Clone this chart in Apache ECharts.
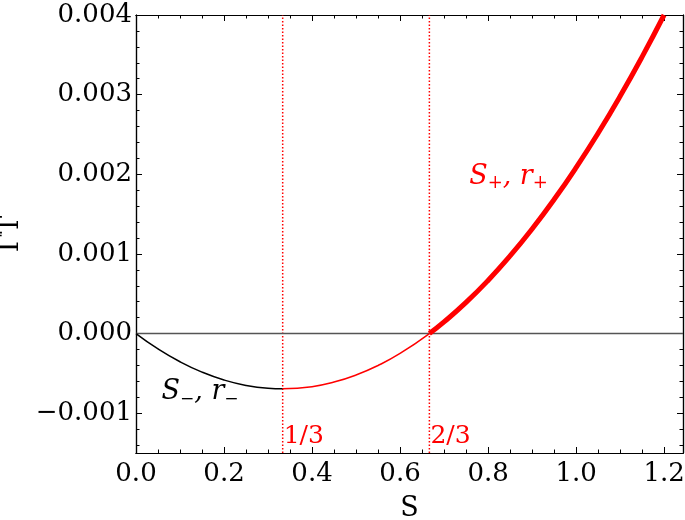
<!DOCTYPE html>
<html>
<head>
<meta charset="utf-8">
<script src="https://cdn.jsdelivr.net/npm/echarts@6/dist/echarts.min.js"></script>
<style>
html,body{margin:0;padding:0;background:#fff;}
#c{width:685px;height:520px;}
</style>
</head>
<body>
<div id="c"></div>
<script>
// Branch S-, r- (black), from S=0 to 1/3
const lowerBranch = [[0,0],[0.05,-0.0001927],[0.1,-0.0003542],[0.15,-0.0004844],[0.2,-0.0005833],[0.25,-0.000651],[0.3,-0.0006875],[0.3333,-0.0006944]];
// Branch thin red, from 1/3 to 2/3
const middleBranch = [[0.3333,-0.0006944],[0.4,-0.0006667],[0.45,-0.0006094],[0.5,-0.0005208],[0.55,-0.000401],[0.6,-0.00025],[0.6667,0]];
// Branch S+, r+ (thick red), from 2/3 to 1.2
const upperBranch = [[0.6667,0],[0.7,0.0001458],[0.75,0.0003906],[0.8,0.0006667],[0.85,0.000974],[0.9,0.0013125],[0.95,0.0016823],[1.0,0.0020833],[1.05,0.0025156],[1.1,0.0029792],[1.15,0.003474],[1.2,0.004]];
const markerX = [1/3, 2/3];
const markerLabels = ['1/3', '2/3'];
const xMajor = [0,0.2,0.4,0.6,0.8,1.0,1.2];
const xMinor = [0.05,0.1,0.15,0.25,0.3,0.35,0.45,0.5,0.55,0.65,0.7,0.75,0.85,0.9,0.95,1.05,1.1,1.15];
const yMajor = [-0.001,0,0.001,0.002,0.003,0.004];
const yMinor = [-0.0014,-0.0012,-0.0008,-0.0006,-0.0004,-0.0002,0.0002,0.0004,0.0006,0.0008,0.0012,0.0014,0.0016,0.0018,0.0022,0.0024,0.0026,0.0028,0.0032,0.0034,0.0036,0.0038];

const FONT = 'DejaVu Serif';
const xMin = 0, xMax = 1.243, yMin = -0.0015, yMax = 0.004;

function xAx(pos, ticks, len, labels, extra) {
  return Object.assign({
    type: 'value', position: pos, min: xMin, max: xMax,
    axisLine: {show: true, onZero: false, lineStyle: {color: '#000', width: 1.2}},
    axisTick: {show: true, inside: true, length: len, customValues: ticks, lineStyle: {color: '#000', width: 1}},
    axisLabel: labels ? {show: true, customValues: xMajor, formatter: v => v.toFixed(1), fontFamily: FONT, fontSize: 26, color: '#000', margin: 8} : {show: false},
    splitLine: {show: false}
  }, extra || {});
}
function yAx(pos, ticks, len, labels, extra) {
  return Object.assign({
    type: 'value', position: pos, min: yMin, max: yMax,
    axisLine: {show: true, onZero: false, lineStyle: {color: '#000', width: 1.2}},
    axisTick: {show: true, inside: true, length: len, customValues: ticks, lineStyle: {color: '#000', width: 1}},
    axisLabel: labels ? {show: true, customValues: yMajor, formatter: v => (v < 0 ? '\u2212' : '') + Math.abs(v).toFixed(3), fontFamily: FONT, fontSize: 26, color: '#000', margin: 4} : {show: false},
    splitLine: {show: false}
  }, extra || {});
}

const vLine = v => [[v, yMin], [v, yMax]];

const chart = echarts.init(document.getElementById('c'), null, {renderer: 'canvas'});
chart.setOption({
  animation: false,
  backgroundColor: '#fff',
  grid: {left: 136, right: 2, top: 15, bottom: 67, containLabel: false, outerBoundsMode: 'none'},
  xAxis: [
    xAx('bottom', xMajor, 6, true, {name: 'S', nameLocation: 'middle', nameGap: 42, nameMoveOverlap: false, nameTextStyle: {fontFamily: FONT, fontSize: 27, color: '#000'}}),
    xAx('bottom', xMinor, 3.5, false),
    xAx('top', xMajor, 6, false),
    xAx('top', xMinor, 3.5, false)
  ],
  yAxis: [
    yAx('left', yMajor, 6, true, {name: '\u0393T', nameLocation: 'middle', nameGap: 112, nameMoveOverlap: false, nameTextStyle: {fontFamily: FONT, fontSize: 27, color: '#000'}}),
    yAx('left', yMinor, 3.5, false),
    yAx('right', yMajor, 6, false),
    yAx('right', yMinor, 3.5, false)
  ],
  series: [
    {
      type: 'line', data: vLine(markerX[0]), showSymbol: false, symbol: 'none', silent: true,
      lineStyle: {color: '#ff0000', width: 1.5, type: [1.5, 2]}, z: 3
    },
    {
      type: 'line', data: vLine(markerX[1]), showSymbol: false, symbol: 'none', silent: true,
      lineStyle: {color: '#ff0000', width: 1.5, type: [1.5, 2]}, z: 3
    },
    {
      type: 'line', data: lowerBranch, smooth: true, showSymbol: false, symbol: 'none',
      lineStyle: {color: '#000', width: 1.5}, z: 5,
      markLine: {
        silent: true, symbol: 'none', label: {show: false},
        lineStyle: {color: '#555', width: 1.3, type: 'solid'},
        data: [{yAxis: 0}]
      },
      markPoint: {
        symbol: 'circle', symbolSize: 0,
        label: {
          show: true, position: 'right', distance: 0,
          formatter: '{s|S}{b|\u2212}{s|, r}{b|\u2212}',
          rich: {
            s: {fontFamily: FONT, fontStyle: 'italic', fontSize: 27, color: '#000', lineHeight: 32},
            b: {fontFamily: FONT, fontSize: 17, color: '#000', verticalAlign: 'bottom', lineHeight: 15}
          }
        },
        data: [{coord: [0.058, -0.00073]}]
      }
    },
    {
      type: 'line', data: middleBranch, smooth: true, showSymbol: false, symbol: 'none',
      lineStyle: {color: '#ff0000', width: 1.5}, z: 5,
      markPoint: {
        symbol: 'circle', symbolSize: 0,
        label: {
          show: true, position: 'right', distance: 1,
          fontFamily: FONT, fontSize: 25, color: '#ff0000',
          formatter: p => p.name
        },
        data: markerX.map((v, i) => ({name: markerLabels[i], coord: [v, -0.00129]}))
      }
    },
    {
      type: 'line', data: upperBranch, smooth: true, showSymbol: false, symbol: 'none',
      lineStyle: {color: '#ff0000', width: 5}, z: 6,
      markPoint: {
        symbol: 'circle', symbolSize: 0,
        label: {
          show: true, position: 'right', distance: 0,
          formatter: '{s|S}{b|+}{s|, r}{b|+}',
          rich: {
            s: {fontFamily: FONT, fontStyle: 'italic', fontSize: 27, color: '#ff0000', lineHeight: 32},
            b: {fontFamily: FONT, fontSize: 18, color: '#ff0000', verticalAlign: 'bottom', lineHeight: 15}
          }
        },
        data: [{coord: [0.757, 0.00197]}]
      }
    }
  ]
});
</script>
</body>
</html>
